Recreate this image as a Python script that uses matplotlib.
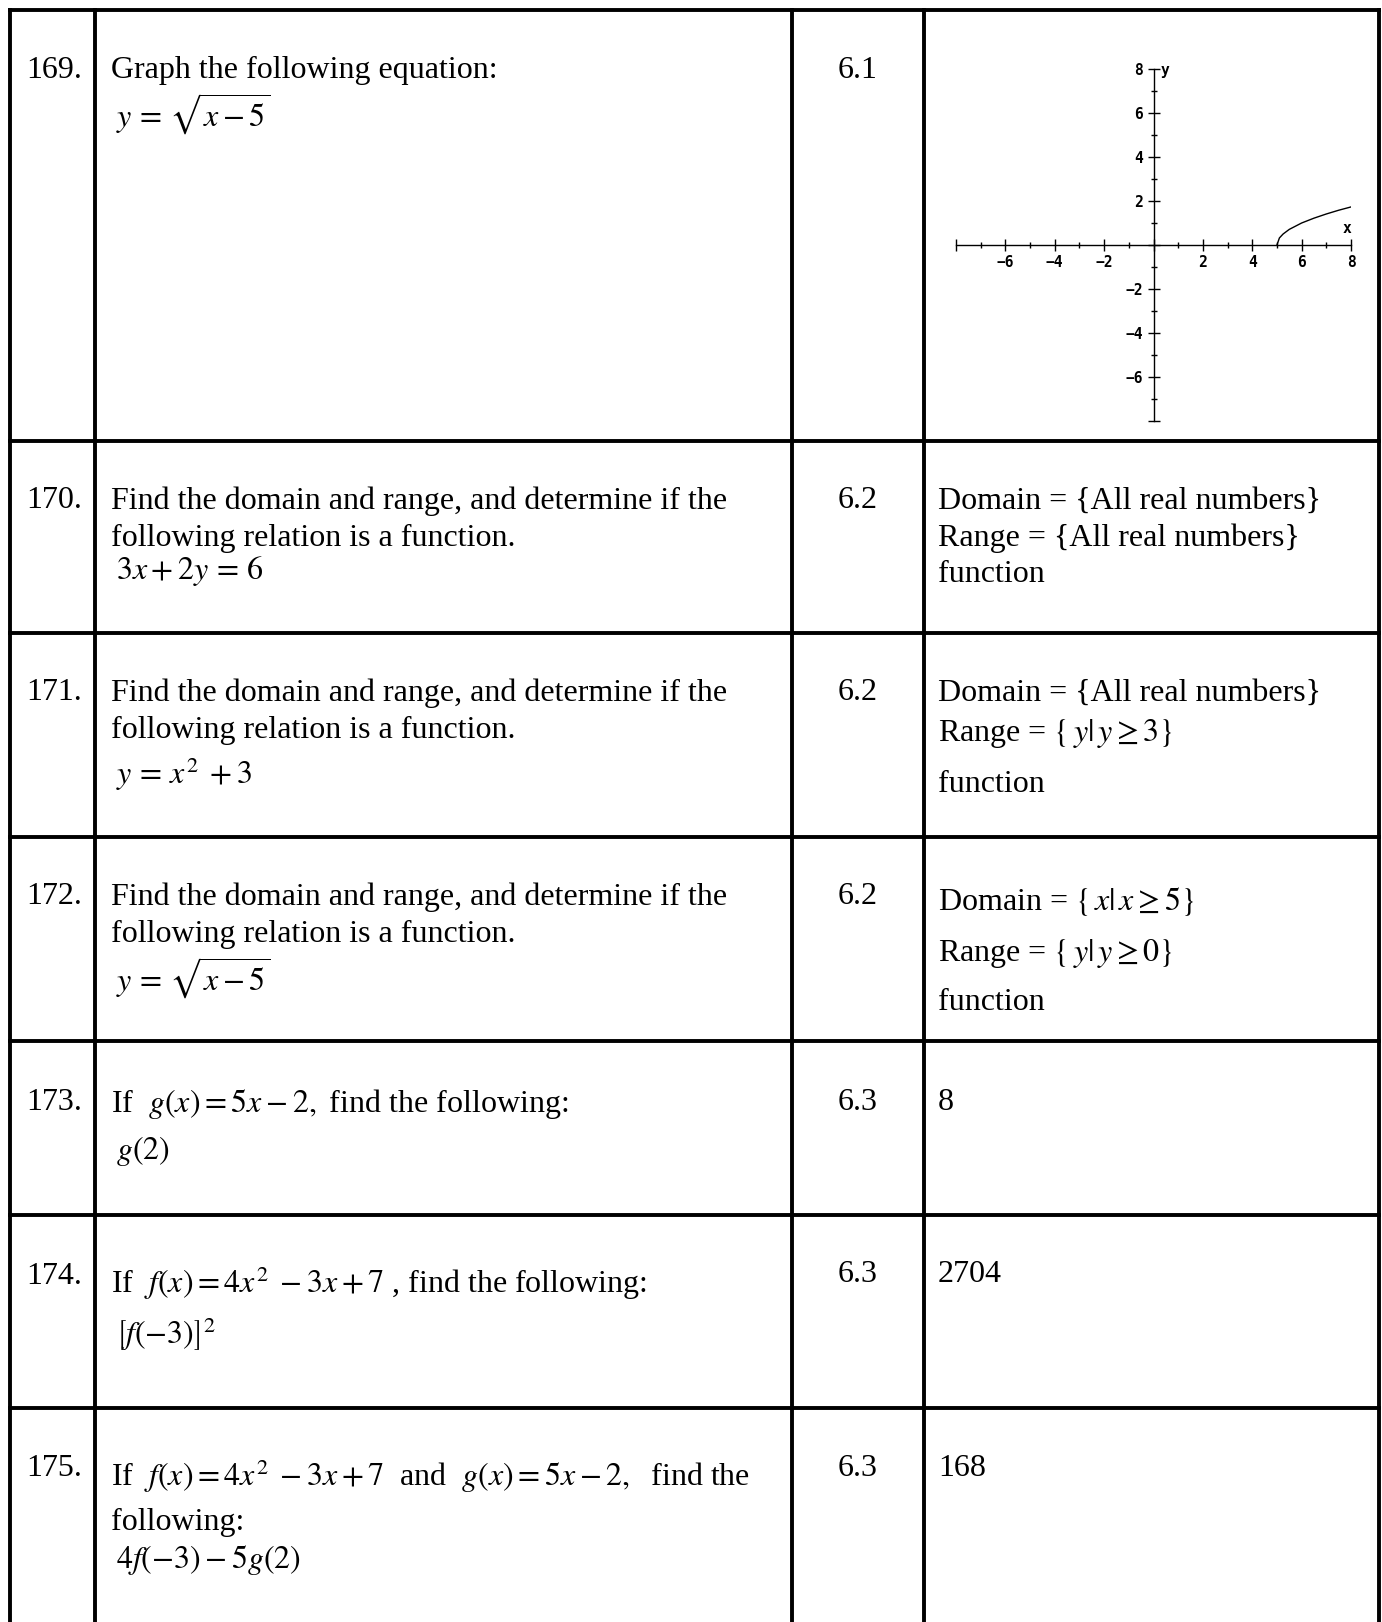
import matplotlib
matplotlib.use("Agg")
import matplotlib.pyplot as plt
from matplotlib.ticker import FixedLocator, FuncFormatter

plt.rcParams["font.family"] = ["Liberation Serif", "DejaVu Serif"]
plt.rcParams["mathtext.fontset"] = "stix"

# table content
row_numbers = ["169.", "170.", "171.", "172.", "173.", "174.", "175."]
sections = ["6.1", "6.2", "6.2", "6.2", "6.3", "6.3", "6.3"]
questions = [
    ["Graph the following equation:", r"$y\,=\,\sqrt{x-5}$"],
    ["Find the domain and range, and determine if the",
     "following relation is a function.", r"$3x+2y\,=\,6$"],
    ["Find the domain and range, and determine if the",
     "following relation is a function.", r"$y\,=\,x^{2}\;+3$"],
    ["Find the domain and range, and determine if the",
     "following relation is a function.", r"$y\,=\,\sqrt{x-5}$"],
    [r"If  $g\left(x\right)=5x-2,$ find the following:", r"$g\left(2\right)$"],
    [r"If  $f\left(x\right)=4x^{2}\;-3x+7$ , find the following:",
     r"$\left[f\left(-3\right)\right]^{2}$"],
    [r"If  $f\left(x\right)=4x^{2}\;-3x+7$  and  $g\left(x\right)=5x-2,$  find the",
     "following:", r"$4f\left(-3\right)-5g\left(2\right)$"],
]
answers = [
    [],
    ["Domain = {All real numbers}", "Range = {All real numbers}", "function"],
    ["Domain = {All real numbers}", r"Range = $\left\{\,y|\,y\geq 3\right\}$", "function"],
    [r"Domain = $\left\{\,x|\,x\geq 5\right\}$", r"Range = $\left\{\,y|\,y\geq 0\right\}$", "function"],
    ["8"],
    ["2704"],
    ["168"],
]

# graph of y = sqrt(x - 5)
curve_x = [5.0, 5.1, 5.25, 5.5, 6.0, 6.5, 7.0, 7.5, 8.0]
curve_y = [0.0, 0.32, 0.5, 0.71, 1.0, 1.22, 1.41, 1.58, 1.73]
x_ticks = [-8, -6, -4, -2, 0, 2, 4, 6, 8]
y_ticks = [-8, -6, -4, -2, 0, 2, 4, 6, 8]

# layout (pixels)
W, H = 1382, 1622
col_x = [10, 95, 792, 924, 1379]
row_y = [10, 441, 633, 837, 1041, 1215, 1408]
num_y = [70, 501, 693, 897, 1102, 1277, 1469]
sec_y = [70, 501, 693, 897, 1102, 1275, 1469]
q_y = [[70, 114], [501, 538, 571], [693, 730, 774], [897, 934, 978],
       [1104, 1151], [1283, 1334], [1476, 1522, 1560]]
a_y = [[], [501, 538, 575], [693, 734, 784], [902, 954, 1003], [1102], [1275], [1469]]

FS = 23

fig = plt.figure(figsize=(W / 100, H / 100), dpi=100)
ax = fig.add_axes([0, 0, 1, 1])
ax.set_xlim(0, W)
ax.set_ylim(H, 0)
ax.axis("off")

lw = 2.8
for x in col_x:
    ax.plot([x, x], [row_y[0], H + 5], color="black", lw=lw, solid_capstyle="projecting")
for y in row_y:
    ax.plot([col_x[0], col_x[-1]], [y, y], color="black", lw=lw, solid_capstyle="projecting")

for i in range(len(row_numbers)):
    ax.text(26, num_y[i], row_numbers[i], fontsize=FS, va="center", ha="left")
    ax.text(838, sec_y[i], sections[i], fontsize=FS, va="center", ha="left")
    for j, line in enumerate(questions[i]):
        xq = 116 if line.startswith("$") else 111
        ax.text(xq, q_y[i][j], line, fontsize=FS, va="center", ha="left")
    for j, line in enumerate(answers[i]):
        ax.text(938, a_y[i][j], line, fontsize=FS, va="center", ha="left")

# small coordinate graph
gx0, gx1 = 956, 1351
gy0, gy1 = 69, 421
g = fig.add_axes([gx0 / W, 1 - gy1 / H, (gx1 - gx0) / W, (gy1 - gy0) / H])
g.set_xlim(-8, 8)
g.set_ylim(-8, 8)
g.patch.set_alpha(0)
g.spines["left"].set_position("zero")
g.spines["bottom"].set_position("zero")
g.spines["right"].set_visible(False)
g.spines["top"].set_visible(False)
g.spines["left"].set_linewidth(1)
g.spines["bottom"].set_linewidth(1)

g.xaxis.set_major_locator(FixedLocator(x_ticks))
g.yaxis.set_major_locator(FixedLocator(y_ticks))
g.xaxis.set_minor_locator(FixedLocator([t + 1 for t in x_ticks[:-1]]))
g.yaxis.set_minor_locator(FixedLocator([t + 1 for t in y_ticks[:-1]]))
fmt = FuncFormatter(lambda v, p: "" if v in (-8, 0) else f"{int(v)}".replace("-", "\u2212"))
g.xaxis.set_major_formatter(fmt)
g.yaxis.set_major_formatter(fmt)
g.tick_params(which="major", direction="inout", length=9, width=1, labelsize=10.5, pad=3)
g.tick_params(which="minor", direction="inout", length=5, width=1)
for lab in g.get_xticklabels() + g.get_yticklabels():
    lab.set_family("DejaVu Sans Mono")
    lab.set_fontweight("bold")

g.plot(curve_x, curve_y, color="black", lw=1)
g.text(7.85, 0.4, "x", fontsize=10.5, family="DejaVu Sans Mono", fontweight="bold", ha="center", va="bottom")
g.text(0.3, 7.95, "y", fontsize=10.5, family="DejaVu Sans Mono", fontweight="bold", ha="left", va="center")

fig.savefig("out.png", dpi=100)
plt.close(fig)
